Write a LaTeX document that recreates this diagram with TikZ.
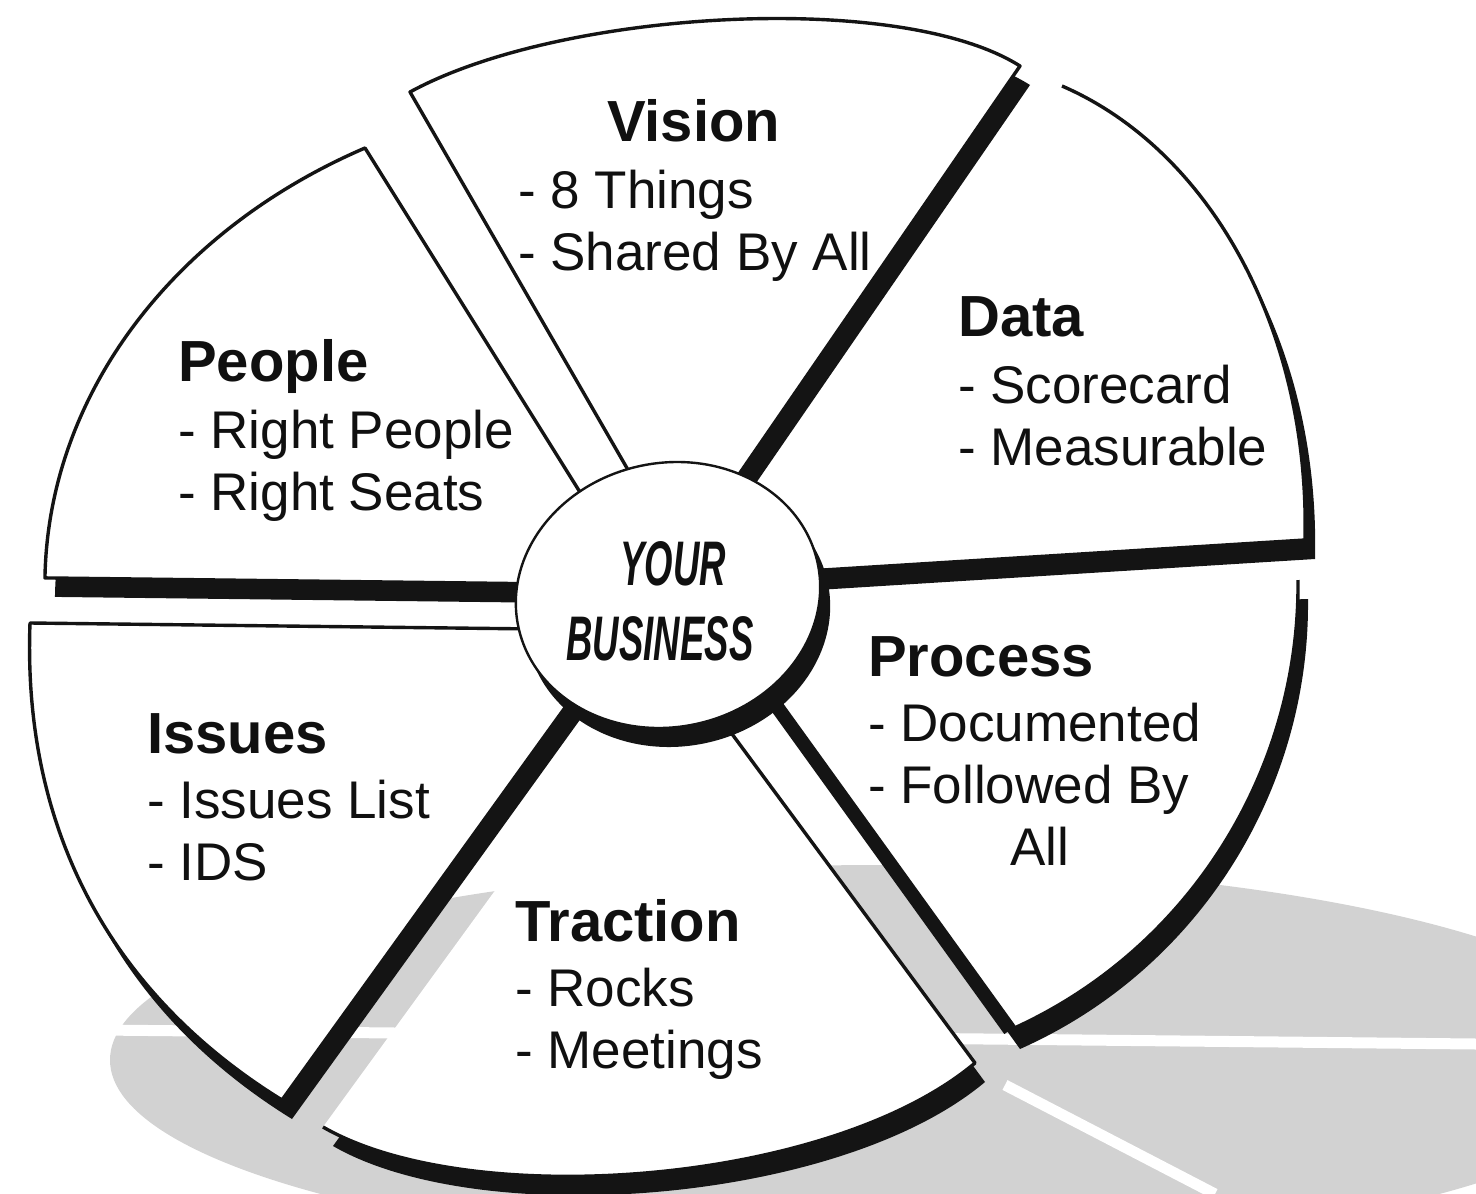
\documentclass[tikz,border=0pt]{standalone}
\usepackage{fontspec}
\setmainfont{Liberation Sans}
\definecolor{wheelline}{HTML}{141414}
\definecolor{wheeltext}{HTML}{101010}
\definecolor{wheelshadow}{HTML}{D2D2D2}

% a slab of the wheel: dark side first, white face on top
\newcommand{\wheelpiece}[1]{%
  \fill[slabside] #1;
  \filldraw[slabface] #1;}
% same, but the closing edge is left without a line
\newcommand{\openpiece}[1]{%
  \fill[slabside] #1 -- cycle;
  \fill[white] #1 -- cycle;
  \draw[rim] #1;}
\newcommand{\segtitle}[1]{{\fontsize{58}{64}\selectfont\bfseries #1}}

\begin{document}
\begin{tikzpicture}[x=1pt, y=-1pt,
  slabface/.style={fill=white, draw=wheelline, line width=3.4pt, line join=round},
  slabside/.style={fill=wheelline, shift={(10,19)}},
  rim/.style={draw=wheelline, line width=3.4pt, line join=round},
  band/.style={draw=wheelline, line width=14pt},
  shadowgap/.style={draw=white, line width=11pt},
  segtext/.style={anchor=base west, align=left, text=wheeltext, inner sep=0pt,
                  font=\fontsize{53}{62}\selectfont},
  hubtext/.style={anchor=base, text=wheeltext, inner sep=0pt,
                  font=\fontsize{63}{63}\selectfont\bfseries\itshape}
]
\useasboundingbox (0,0) rectangle (1476,1194);
\clip (0,0) rectangle (1476,1194);

% ground shadow
\fill[wheelshadow] (880,1060) ellipse [x radius=770, y radius=195];
\draw[shadowgap] (100,1030) -- (1476,1044);
\draw[shadowgap] (1005,1085) -- (1215,1194);

% Traction
\openpiece{(670,650) -- (975,1063) .. controls (830,1185) and (470,1212) .. (323,1127)}
% Process
\openpiece{(1298,580) .. controls (1300,770) and (1190,950) .. (1010,1030) -- (700,600)}
\draw[band] (1010,1030) -- (700,600);
% Data
\openpiece{(695,578) -- (1305,540) .. controls (1310,330) and (1210,150) .. (1062,86)}
% Vision
\wheelpiece{(680,560) -- (410,92) .. controls (560,10) and (900,-10) .. (1020,66) -- cycle}
% People
\wheelpiece{(638,585) -- (365,148) arc[start angle=242.6, end angle=180.8, x radius=593, y radius=492] -- cycle}
% Issues
\wheelpiece{(621,630) -- (30,623) .. controls (22,840) and (120,1000) .. (282,1100) -- cycle}

% hub
\fill[slabside, rotate around={12:(668,595)}] (668,595) ellipse [x radius=153, y radius=132];
\filldraw[slabface, line width=2.4pt, rotate around={12:(668,595)}] (668,595) ellipse [x radius=153, y radius=132];
\node[hubtext] (your) at (673,585) {\scalebox{0.58}[1]{YOUR}};
\node[hubtext] (business) at (660,660) {\scalebox{0.58}[1]{BUSINESS}};

% texts, placed by the baseline of their last line
\node[segtext] (vision) at (518,270) {\hspace*{89pt}\segtitle{Vision}\\[5pt]- 8 Things\\- Shared By All};
\node[segtext] (people) at (178,510) {\segtitle{People}\\[5pt]- Right People\\- Right Seats};
\node[segtext] (data) at (958,465) {\segtitle{Data}\\[5pt]- Scorecard\\- Measurable};
\node[segtext] (process) at (868,865) {\segtitle{Process}\\[3pt]- Documented\\- Followed By\\\hspace*{142pt}All};
\node[segtext] (issues) at (147,880) {\segtitle{Issues}\\[3pt]- Issues List\\- IDS};
\node[segtext] (traction) at (515,1068) {\segtitle{Traction}\\[3pt]- Rocks\\- Meetings};
\end{tikzpicture}
\end{document}
